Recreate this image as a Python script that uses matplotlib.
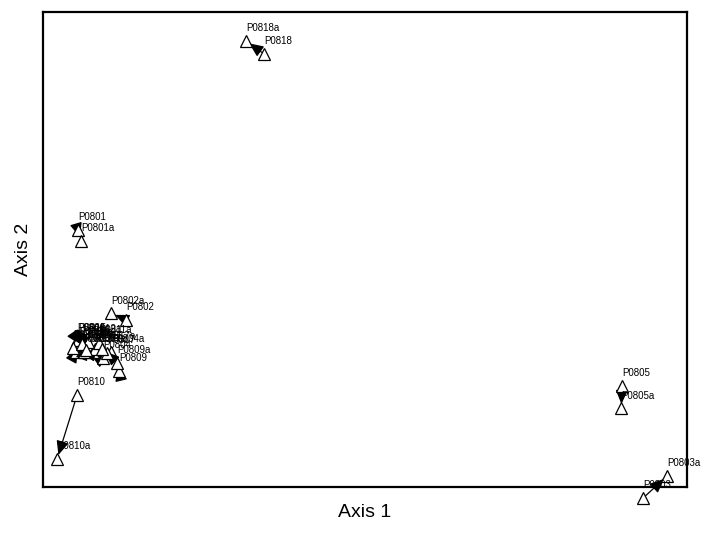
import matplotlib
matplotlib.use("Agg")
import matplotlib.pyplot as plt

plt.rcParams['font.family'] = ['Liberation Sans', 'DejaVu Sans']

# Ordination scores of the plots at the first visit and the repeat visit ("a")
plots = ["P0818", "P0801", "P0802", "P0810", "P0805", "P0803", "P0809",
         "P0804", "P0806", "P0807", "P0808", "P0811", "P0812", "P0815",
         "P0816", "P0817"]
axis1_first = [34.3, 5.4, 12.9, 5.3, 89.9, 93.2, 11.8,
               9.3, 5.3, 7.0, 5.1, 8.1, 6.4, 5.4, 6.1, 9.9]
axis2_first = [91.2, 54.1, 35.2, 19.4, 21.3, -2.3, 24.4,
               27.2, 30.9, 29.7, 28.4, 29.1, 28.4, 30.9, 30.1, 28.2]
axis1_repeat = [31.5, 5.9, 10.6, 2.2, 89.8, 96.9, 11.5,
                10.6, 6.1, 7.8, 5.7, 8.7, 7.0, 4.7, 6.7, 9.2]
axis2_repeat = [93.9, 51.8, 36.6, 5.9, 16.6, 2.3, 26.1,
                28.4, 29.3, 28.4, 29.9, 30.3, 30.5, 29.3, 28.8, 29.1]

fig = plt.figure(figsize=(7.04, 5.43), dpi=100)
ax = fig.add_axes([43 / 704, 1 - 487 / 543, 644 / 704, 475 / 543])

for name, x0, y0, x1, y1 in zip(plots, axis1_first, axis2_first,
                                axis1_repeat, axis2_repeat):
    # successional vector from first visit to repeat visit
    ax.annotate("", xy=(x1, y1), xytext=(x0, y0),
                arrowprops=dict(arrowstyle="-|>,head_length=0.5,head_width=0.22",
                                color="black", lw=0.9, mutation_scale=17,
                                shrinkA=0, shrinkB=3),
                annotation_clip=False)
    for lab, x, y in ((name, x0, y0), (name + "a", x1, y1)):
        ax.plot(x, y, marker="^", ms=8.5, mfc="white", mec="black",
                mew=0.9, ls="none", clip_on=False, zorder=3)
        ax.annotate(lab, xy=(x, y), xytext=(0, 5.5), textcoords="offset points",
                    ha="left", va="bottom", fontsize=7, zorder=4,
                    annotation_clip=False)

ax.set_xlim(0, 100)
ax.set_ylim(0, 100)
ax.set_xticks([])
ax.set_yticks([])
for sp in ax.spines.values():
    sp.set_linewidth(1.6)
ax.set_xlabel("Axis 1", fontsize=14, labelpad=12)
ax.set_ylabel("Axis 2", fontsize=14, labelpad=8)

fig.savefig("out.png", dpi=100)
